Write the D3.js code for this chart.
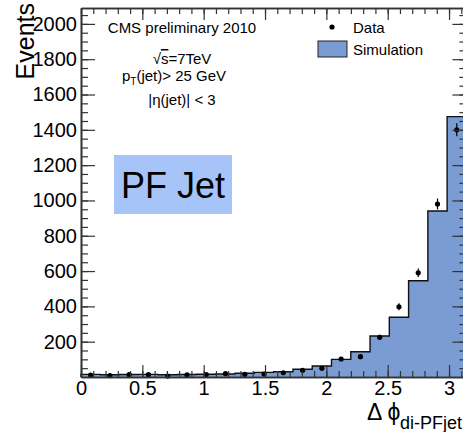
<!DOCTYPE html>
<html>
<head>
<meta charset="utf-8">
<script src="https://cdn.jsdelivr.net/npm/d3@7"></script>
<style>
  html, body { margin: 0; padding: 0; background: #fff; }
  svg { display: block; }
  text { font-family: "Liberation Sans", Arial, Helvetica, sans-serif; fill: #000; }
</style>
</head>
<body>
<svg id="chart" width="463" height="432"></svg>
<script>
// Δφ between the two leading PF jets, 20 bins from 0 to π
const nBins = 20;
const simCounts  = [15, 13, 14, 15, 13, 14, 16, 17, 21, 26, 30, 44, 62, 100, 143, 232, 338, 545, 940, 1475];
const dataCounts = [11, 8, 13, 13, 5, 12, 14, 19, 15, 17, 24, 38, 49, 102, 115, 225, 398, 590, 980, 1400];
const dataErrors = [4, 3, 4, 4, 2, 3, 4, 4, 4, 4, 5, 6, 7, 10, 11, 15, 20, 24, 31, 37];

const xTickValues = [0, 0.5, 1, 1.5, 2, 2.5, 3];
const xTickLabels = ["0", "0.5", "1", "1.5", "2", "2.5", "3"];
const yTickValues = [200, 400, 600, 800, 1000, 1200, 1400, 1600, 1800, 2000];
const yTickLabels = ["200", "400", "600", "800", "1000", "1200", "1400", "1600", "1800", "2000"];

const simColor = "#7b9cd3";
const boxColor = "#a6c4f8";

const svg = d3.select("#chart");
const frameLeft = 81, frameRight = 466.4, frameTop = 8, frameBottom = 377;

const x = d3.scaleLinear().domain([0, Math.PI]).range([frameLeft, frameRight]);
const y = d3.scaleLinear().domain([0, 2090]).range([frameBottom, frameTop]);
const binW = Math.PI / nBins;

// simulation histogram: filled steps with a black outline
const steps = [];
simCounts.forEach((v, i) => {
  steps.push([i * binW, v]);
  steps.push([(i + 1) * binW, v]);
});
svg.append("path")
  .attr("d", d3.area().x(d => x(d[0])).y0(y(0)).y1(d => y(d[1]))(steps))
  .attr("fill", simColor);
const outline = [[0, 0], ...steps, [Math.PI, 0]];
svg.append("path")
  .attr("d", d3.line().x(d => x(d[0])).y(d => y(d[1]))(outline))
  .attr("fill", "none").attr("stroke", "#111").attr("stroke-width", 1.4);

// data points with error bars
const pts = svg.append("g");
dataCounts.forEach((v, i) => {
  const cx = x((i + 0.5) * binW);
  pts.append("line")
    .attr("x1", cx).attr("x2", cx)
    .attr("y1", y(v - dataErrors[i])).attr("y2", y(v + dataErrors[i]))
    .attr("stroke", "#000").attr("stroke-width", 1.2);
  pts.append("circle").attr("cx", cx).attr("cy", y(v)).attr("r", 2.6).attr("fill", "#000");
});

// axes, ticks pointing into the frame
const minorX = d3.range(0, 3.15, 0.1).map(v => +v.toFixed(2));
const minorY = d3.range(50, 2090, 50);
const axisColor = "#333";
function styleAxis(g) {
  g.selectAll("path.domain").attr("stroke", axisColor).attr("stroke-width", 1.6);
  g.selectAll(".tick line").attr("stroke", axisColor).attr("stroke-width", 1.2);
  g.selectAll("text").attr("font-family", "Liberation Sans, Arial, sans-serif").attr("font-size", 20).attr("fill", "#000");
}
// bottom
svg.append("g").attr("transform", `translate(0,${frameBottom})`)
  .call(d3.axisBottom(x).tickValues(minorX).tickSize(-6).tickSizeOuter(0).tickFormat(""))
  .call(styleAxis);
svg.append("g").attr("transform", `translate(0,${frameBottom})`)
  .call(d3.axisBottom(x).tickValues(xTickValues).tickSize(-12).tickSizeOuter(0).tickPadding(4)
        .tickFormat((d, i) => xTickLabels[i]))
  .call(styleAxis);
// top
svg.append("g").attr("transform", `translate(0,${frameTop})`)
  .call(d3.axisTop(x).tickValues(minorX).tickSize(-6).tickSizeOuter(0).tickFormat(""))
  .call(styleAxis);
svg.append("g").attr("transform", `translate(0,${frameTop})`)
  .call(d3.axisTop(x).tickValues(xTickValues).tickSize(-12).tickSizeOuter(0).tickFormat(""))
  .call(styleAxis);
// left
svg.append("g").attr("transform", `translate(${frameLeft},0)`)
  .call(d3.axisLeft(y).tickValues(minorY).tickSize(-7).tickSizeOuter(0).tickFormat(""))
  .call(styleAxis);
svg.append("g").attr("transform", `translate(${frameLeft},0)`)
  .call(d3.axisLeft(y).tickValues(yTickValues).tickSize(-14).tickSizeOuter(0).tickPadding(4)
        .tickFormat((d, i) => yTickLabels[i]))
  .call(styleAxis);
// right
svg.append("g").attr("transform", `translate(${frameRight},0)`)
  .call(d3.axisRight(y).tickValues(minorY).tickSize(-7).tickSizeOuter(0).tickFormat(""))
  .call(styleAxis);
svg.append("g").attr("transform", `translate(${frameRight},0)`)
  .call(d3.axisRight(y).tickValues(yTickValues).tickSize(-14).tickSizeOuter(0).tickFormat(""))
  .call(styleAxis);

// axis titles
svg.append("text")
  .attr("transform", "translate(34,3) rotate(-90)")
  .attr("text-anchor", "end")
  .attr("font-size", 25)
  .text("Events");
const xt = svg.append("text").attr("x", 367).attr("y", 420).attr("font-size", 23);
xt.append("tspan").text("Δ ϕ");
xt.append("tspan").attr("x", 400).attr("dy", 9).attr("font-size", 18).text("di-PFjet");

// annotation block
const info = svg.append("g").attr("font-size", 15).attr("text-anchor", "middle");
info.append("text").attr("x", 182).attr("y", 33).text("CMS preliminary 2010");
const rs = info.append("text").attr("x", 182).attr("y", 64);
rs.append("tspan").text("√");
rs.append("tspan").attr("text-decoration", "overline").text("s");
rs.append("tspan").text("=7TeV");
const pt = info.append("text").attr("x", 174).attr("y", 81);
pt.append("tspan").text("p");
pt.append("tspan").attr("dy", 4).attr("font-size", 10).text("T");
pt.append("tspan").attr("dy", -4).text("(jet)> 25 GeV");
info.append("text").attr("x", 182).attr("y", 105).text("|η(jet)| < 3");

// legend
svg.append("circle").attr("cx", 332).attr("cy", 27).attr("r", 2.6).attr("fill", "#000");
svg.append("text").attr("x", 353).attr("y", 33).attr("font-size", 15).text("Data");
svg.append("rect").attr("x", 318).attr("y", 41).attr("width", 29).attr("height", 16)
  .attr("fill", simColor).attr("stroke", "#222").attr("stroke-width", 1);
svg.append("text").attr("x", 353).attr("y", 55).attr("font-size", 15).text("Simulation");

// "PF Jet" tag
svg.append("rect").attr("x", 114).attr("y", 155).attr("width", 118).attr("height", 59).attr("fill", boxColor);
svg.append("text").attr("x", 121).attr("y", 198)
  .attr("font-family", "DejaVu Sans, sans-serif").attr("font-size", 36)
  .attr("xml:space", "preserve")
  .text("PF Jet");
</script>
</body>
</html>
